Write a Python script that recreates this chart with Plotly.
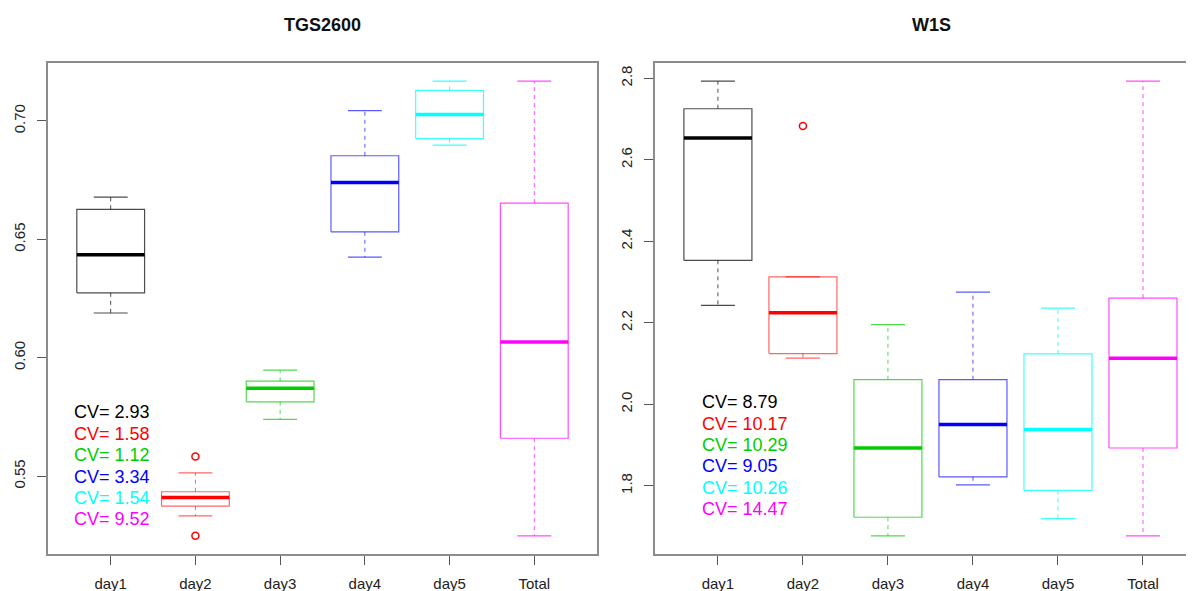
import plotly.graph_objects as go

categories = ["day1", "day2", "day3", "day4", "day5", "Total"]
colors = ["#000000", "#FF0000", "#00CD00", "#0000FF", "#00FFFF", "#FF00FF"]
thin_colors = ["rgba(0,0,0,0.7)", "rgba(255,0,0,0.6)", "rgba(0,205,0,0.7)",
               "rgba(0,0,255,0.65)", "rgba(0,255,255,0.75)", "rgba(255,0,255,0.7)"]

# TGS2600 panel
tgs_lo = [0.6189, 0.5332, 0.5740, 0.6425, 0.6898, 0.5248]
tgs_q1 = [0.6274, 0.5373, 0.5814, 0.6532, 0.6925, 0.5660]
tgs_med = [0.6435, 0.5410, 0.5871, 0.6740, 0.7027, 0.6067]
tgs_q3 = [0.6627, 0.5434, 0.5901, 0.6853, 0.7129, 0.6653]
tgs_hi = [0.6678, 0.5514, 0.5948, 0.7044, 0.7168, 0.7168]
tgs_out_group = [2, 2]
tgs_out_val = [0.5583, 0.5248]
tgs_cv = ["CV= 2.93", "CV= 1.58", "CV= 1.12", "CV= 3.34", "CV= 1.54", "CV= 9.52"]
tgs_cv_y = [0.5770, 0.5679, 0.5588, 0.5497, 0.5409, 0.5320]
tgs_ticks = [0.55, 0.60, 0.65, 0.70]
tgs_ticktext = ["0.55", "0.60", "0.65", "0.70"]

# W1S panel
w1s_lo = [2.2424, 2.1130, 1.6772, 1.8024, 1.7195, 1.6772]
w1s_q1 = [2.3530, 2.1244, 1.7228, 1.8220, 1.7886, 1.8927]
w1s_med = [2.6535, 2.2245, 1.8927, 1.9504, 1.9382, 2.1130]
w1s_q3 = [2.7251, 2.3124, 2.0602, 2.0602, 2.1236, 2.2603]
w1s_hi = [2.7927, 2.3124, 2.1952, 2.2750, 2.2360, 2.7927]
w1s_out_group = [2]
w1s_out_val = [2.6828]
w1s_cv = ["CV= 8.79", "CV= 10.17", "CV= 10.29", "CV= 9.05", "CV= 10.26", "CV= 14.47"]
w1s_cv_y = [2.0049, 1.9522, 1.8993, 1.8473, 1.7944, 1.7424]
w1s_ticks = [1.8, 2.0, 2.2, 2.4, 2.6, 2.8]
w1s_ticktext = ["1.8", "2.0", "2.2", "2.4", "2.6", "2.8"]

titles = ["TGS2600", "W1S"]

FONT = "Liberation Sans, Arial, sans-serif"
BOXW = 0.4
CAPW = 0.2

fig = go.Figure()


def add_panel(fig, xa, ya, lo, q1, med, q3, hi, og, ov):
    for i in range(len(categories)):
        c = colors[i]
        tc = thin_colors[i]
        x = i + 1
        # whiskers (dashed)
        fig.add_trace(go.Scatter(
            x=[x, x, None, x, x], y=[q3[i], hi[i], None, q1[i], lo[i]],
            mode="lines", line=dict(color=tc, width=1, dash="4px,4px"),
            xaxis=xa, yaxis=ya, showlegend=False, hoverinfo="skip"))
        # caps
        fig.add_trace(go.Scatter(
            x=[x - CAPW, x + CAPW, None, x - CAPW, x + CAPW],
            y=[hi[i], hi[i], None, lo[i], lo[i]],
            mode="lines", line=dict(color=tc, width=1.2),
            xaxis=xa, yaxis=ya, showlegend=False, hoverinfo="skip"))
        # box
        fig.add_trace(go.Scatter(
            x=[x - BOXW, x + BOXW, x + BOXW, x - BOXW, x - BOXW],
            y=[q1[i], q1[i], q3[i], q3[i], q1[i]],
            mode="lines", line=dict(color=tc, width=1.2),
            xaxis=xa, yaxis=ya, showlegend=False, hoverinfo="skip"))
        # median
        fig.add_trace(go.Scatter(
            x=[x - BOXW, x + BOXW], y=[med[i], med[i]],
            mode="lines", line=dict(color=c, width=3.5),
            xaxis=xa, yaxis=ya, showlegend=False, hoverinfo="skip"))
    fig.add_trace(go.Scatter(
        x=og, y=ov, mode="markers",
        marker=dict(symbol="circle-open", size=7, color=[colors[g - 1] for g in og],
                    line=dict(width=1.5)),
        xaxis=xa, yaxis=ya, showlegend=False, hoverinfo="skip"))


add_panel(fig, "x", "y", tgs_lo, tgs_q1, tgs_med, tgs_q3, tgs_hi, tgs_out_group, tgs_out_val)
add_panel(fig, "x2", "y2", w1s_lo, w1s_q1, w1s_med, w1s_q3, w1s_hi, w1s_out_group, w1s_out_val)


def yrange(lo, hi, ov):
    mn = min(lo + ov)
    mx = max(hi + ov)
    d = (mx - mn) * 0.04
    return [mn - d, mx + d]


OFF = 8  # page body margin
W, H = 1194 - OFF, 591 - OFF


def px(v):
    return (v - OFF) / W


def py(v):
    return 1 - (v - OFF) / H


frame = "#8c8c8c"
tickfont = dict(family=FONT, size=15, color="#222222")
ydom = [py(554), py(63)]

common_x = dict(tickmode="array", tickvals=list(range(1, 7)), ticktext=categories,
                ticks="outside", ticklen=9, tickcolor="#555555", tickwidth=1,
                showline=True, linecolor=frame, linewidth=1.5, mirror=True,
                showgrid=False, zeroline=False, tickfont=tickfont,
                ticklabelstandoff=6)
common_y = dict(tickmode="array", ticks="outside", ticklen=9, tickcolor="#555555",
                tickwidth=1, showline=True, linecolor=frame, linewidth=1.5,
                showgrid=False, zeroline=False, tickfont=tickfont, tickangle=-90,
                ticklabelstandoff=6, domain=ydom)

fig.update_layout(
    width=W, height=H,
    margin=dict(l=0, r=0, t=0, b=0),
    paper_bgcolor="white", plot_bgcolor="white",
    xaxis=dict(common_x, domain=[px(48), px(597)], range=[0.26, 6.74], anchor="y"),
    yaxis=dict(common_y, tickvals=tgs_ticks, ticktext=tgs_ticktext,
               range=yrange(tgs_lo, tgs_hi, tgs_out_val), anchor="x", mirror=True),
    xaxis2=dict(common_x, domain=[px(655), 1.0], range=[0.26, 6.6], anchor="y2"),
    yaxis2=dict(common_y, tickvals=w1s_ticks, ticktext=w1s_ticktext,
                range=yrange(w1s_lo, w1s_hi, w1s_out_val), anchor="x2", mirror=False),
    showlegend=False,
)

annotations = []
for t, cx in zip(titles, [px((48 + 597) / 2), px((655 + 1207) / 2)]):
    annotations.append(dict(text="<b>" + t + "</b>", x=cx, y=py(25), xref="paper",
                            yref="paper", showarrow=False, xanchor="center",
                            yanchor="middle", font=dict(family=FONT, size=18, color="#111111")))
for txt, yy, c in zip(tgs_cv, tgs_cv_y, colors):
    annotations.append(dict(text=txt, x=0.54, y=yy, xref="x", yref="y", showarrow=False,
                            xanchor="left", yanchor="middle",
                            font=dict(family=FONT, size=18, color=c)))
for txt, yy, c in zip(w1s_cv, w1s_cv_y, colors):
    annotations.append(dict(text=txt, x=0.79, y=yy, xref="x2", yref="y2", showarrow=False,
                            xanchor="left", yanchor="middle",
                            font=dict(family=FONT, size=18, color=c)))
fig.update_layout(annotations=annotations)

fig.write_html("out.html")
